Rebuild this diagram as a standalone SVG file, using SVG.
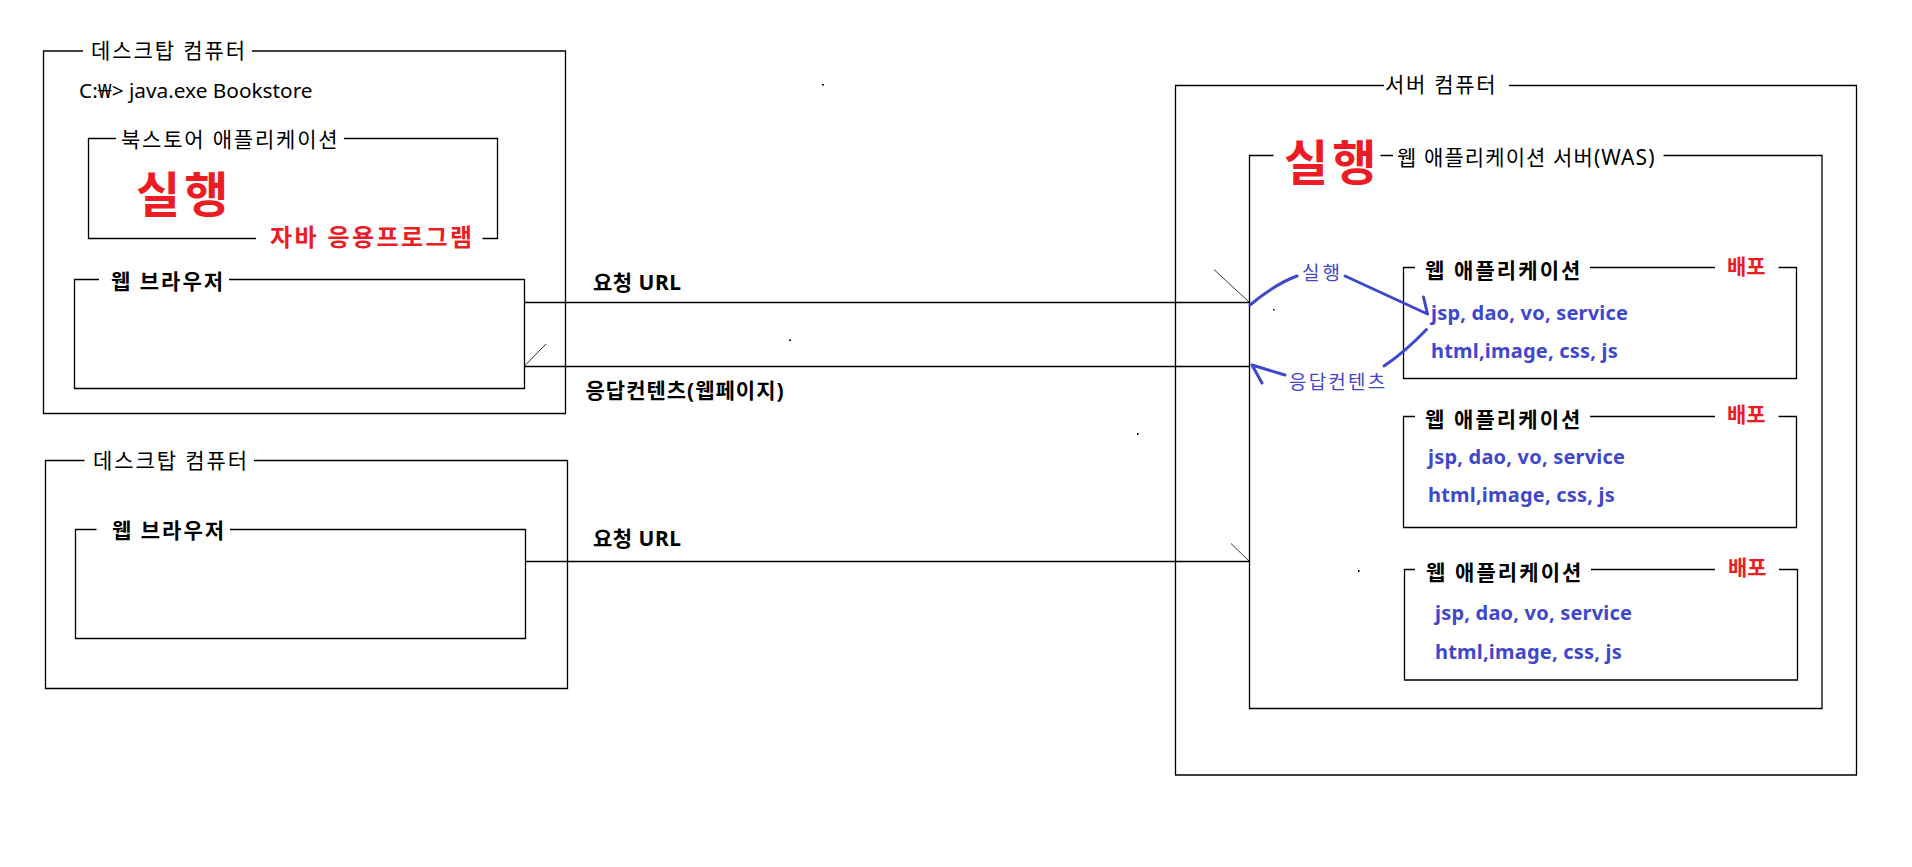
<svg xmlns="http://www.w3.org/2000/svg" width="1912" height="867" viewBox="0 0 1912 867">
<style>
.frame{fill:none;stroke:#000;stroke-width:1.3}
.conn{fill:none;stroke:#000;stroke-width:1.3}
.barb{fill:none;stroke:#000;stroke-width:0.8}
.blue{fill:none;stroke:#3F48CC;stroke-width:3;stroke-linecap:round;stroke-linejoin:round}
text{font-family:"Noto Sans","Noto Sans CJK KR",sans-serif}
.t{font-size:21px;fill:#000;letter-spacing:1.9px}
.tb{font-size:21px;font-weight:bold;fill:#000;letter-spacing:2px}
.red{fill:#ED1C24;font-weight:bold}
.big{font-size:48px;letter-spacing:4px}
.bl{fill:#3F48CC;font-weight:bold;font-size:20px;letter-spacing:0.2px}
.bll{fill:#3F48CC;font-size:19px;letter-spacing:2.2px}
</style>
<rect width="1912" height="867" fill="#fff"/>

<g id="desktop1">
<path class="frame" d="M83,51 H43.5 V413.5 H565.5 V51 H252"/>
<text class="t" x="91" y="58">데스크탑 컴퓨터</text>
<text x="79" y="97.5" style="font-size:20.8px">C:₩&gt; java.exe Bookstore</text>
</g>

<g id="bookstore-app">
<path class="frame" d="M116,138.5 H88.5 V238.5 H256 M482.5,238.5 H497.5 V138.5 H344"/>
<text class="t" x="121" y="146.5" style="letter-spacing:1.8px">북스토어 애플리케이션</text>
<text class="red big" x="136" y="212">실행</text>
<text class="red" x="270" y="245.5" style="font-size:24px;letter-spacing:2.4px">자바 응용프로그램</text>
</g>

<g id="browser1">
<path class="frame" d="M99,279.5 H74.5 V388.5 H524.5 V279.5 H229"/>
<text class="tb" x="111" y="288.5">웹 브라우저</text>
</g>

<g id="desktop2">
<path class="frame" d="M84.5,460.5 H45.5 V688.5 H567.5 V460.5 H254"/>
<text class="t" x="93" y="468">데스크탑 컴퓨터</text>
</g>

<g id="browser2">
<path class="frame" d="M96.5,529.5 H75.5 V638.5 H525.5 V529.5 H230"/>
<text class="tb" x="112" y="538">웹 브라우저</text>
</g>

<g id="server">
<path class="frame" d="M1384,85.5 H1175.5 V775 H1856.5 V85.5 H1509"/>
<text class="t" x="1385" y="92" style="letter-spacing:1.7px">서버 컴퓨터</text>
</g>

<g id="was">
<path class="frame" d="M1273.5,155.5 H1249.5 V708.5 H1822 V155.5 H1663.5 M1380.5,155.5 H1393"/>
<text class="red big" x="1284" y="180">실행</text>
<text class="t" x="1397" y="164.5" style="letter-spacing:1.1px">웹 애플리케이션 서버(WAS)</text>
</g>

<g id="webapp1">
<path class="frame" d="M1415,267.5 H1403.5 V378.5 H1796.5 V267.5 H1778.5 M1715,267.5 H1590"/>
<text class="tb" x="1425" y="277.5" style="letter-spacing:2.1px">웹 애플리케이션</text>
<text class="red" x="1727" y="273.5" style="font-size:21px">배포</text>
<text class="bl" x="1431" y="320">jsp, dao, vo, service</text>
<text class="bl" x="1431" y="358">html,image, css, js</text>
</g>

<g id="webapp2">
<path class="frame" d="M1415,416.5 H1403.5 V527.5 H1796.5 V416.5 H1778.5 M1715,416.5 H1590"/>
<text class="tb" x="1425" y="426.5" style="letter-spacing:2.1px">웹 애플리케이션</text>
<text class="red" x="1727" y="421.5" style="font-size:21px">배포</text>
<text class="bl" x="1428" y="463.5">jsp, dao, vo, service</text>
<text class="bl" x="1428" y="501.5">html,image, css, js</text>
</g>

<g id="webapp3">
<path class="frame" d="M1415,569.5 H1404.5 V680 H1797.5 V569.5 H1779 M1715,569.5 H1591"/>
<text class="tb" x="1426" y="580" style="letter-spacing:2.1px">웹 애플리케이션</text>
<text class="red" x="1728" y="575" style="font-size:21px">배포</text>
<text class="bl" x="1435" y="619.5">jsp, dao, vo, service</text>
<text class="bl" x="1435" y="658.5">html,image, css, js</text>
</g>

<g id="connectors">
<path class="conn" d="M524.5,302.5 H1249.5"/>
<path class="barb" d="M1249.5,302.5 L1214,269.5"/>
<text class="tb" x="593" y="289.5" style="letter-spacing:0.5px">요청 URL</text>
<path class="conn" d="M524.5,366.5 H1249.5"/>
<path class="barb" d="M524,366.5 L546,344"/>
<text class="tb" x="585.5" y="398" style="letter-spacing:1px">응답컨텐츠(웹페이지)</text>
<path class="conn" d="M525.5,561.5 H1249.5"/>
<path class="barb" d="M1249.5,561.5 L1231,543.5"/>
<text class="tb" x="593" y="545.5" style="letter-spacing:0.5px">요청 URL</text>
<path class="blue" d="M1250,305 Q1275,284 1297,276"/>
<path class="blue" d="M1345,276 L1427.5,314 M1423.5,297 L1427.5,314"/>
<text class="bll" x="1302" y="280" style="letter-spacing:3px">실행</text>
<path class="blue" d="M1426.5,329.5 Q1405,352 1384,366"/>
<path class="blue" d="M1285,375 L1252,365 L1262,383"/>
<text class="bll" x="1289" y="389">응답컨텐츠</text>
</g>

<g id="specks" fill="#000">
<rect x="822" y="84" width="2" height="1.5"/>
<rect x="789" y="339.5" width="2" height="1.5"/>
<rect x="1137" y="433" width="1.5" height="2"/>
<rect x="1273" y="309" width="1.5" height="1.5"/>
<rect x="1358" y="570" width="1.5" height="2"/>
</g>
</svg>
